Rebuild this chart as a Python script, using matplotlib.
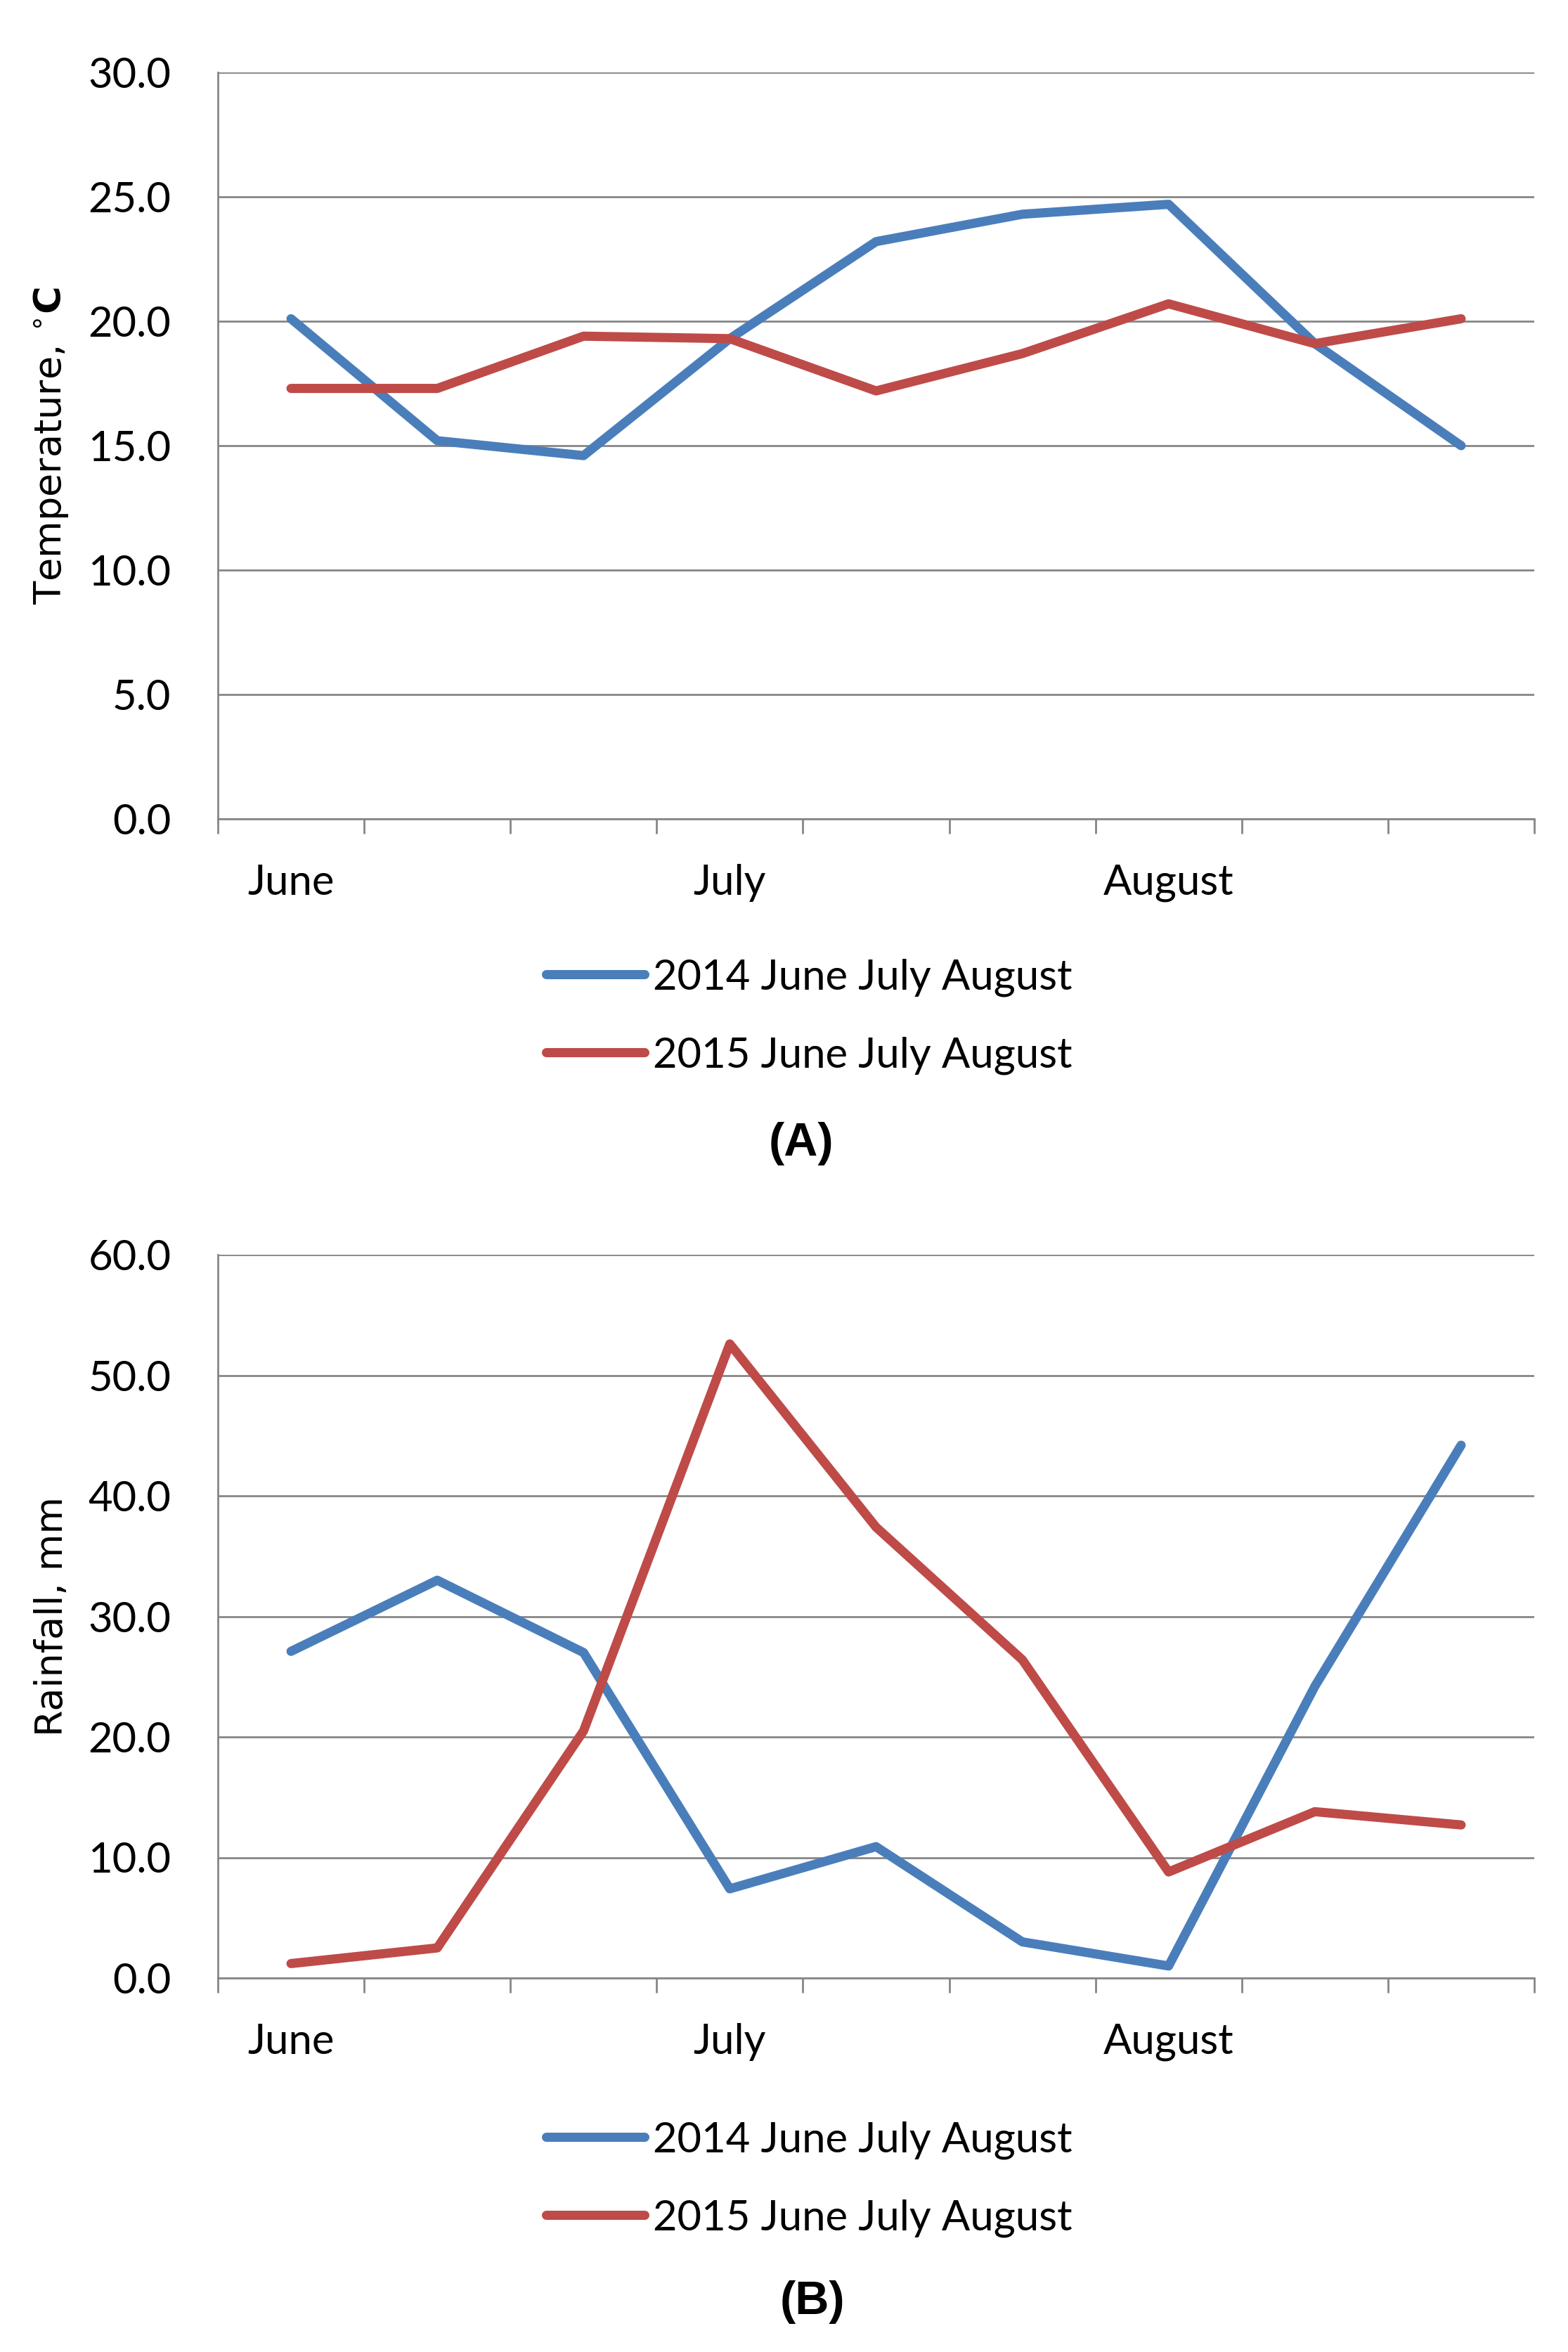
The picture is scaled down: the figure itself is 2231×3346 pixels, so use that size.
import matplotlib
matplotlib.use("Agg")
import matplotlib.pyplot as plt
from matplotlib.ticker import FixedLocator

# data
periods = ["June", "", "", "July", "", "", "August", "", ""]
temp_2014 = [20.1, 15.2, 14.6, 19.3, 23.2, 24.3, 24.7, 19.1, 15.0]
temp_2015 = [17.3, 17.3, 19.4, 19.3, 17.2, 18.7, 20.7, 19.1, 20.1]
rain_2014 = [27.1, 33.0, 27.0, 7.4, 10.9, 3.0, 1.0, 24.2, 44.2]
rain_2015 = [1.2, 2.5, 20.5, 52.6, 37.4, 26.4, 8.8, 13.8, 12.7]
series_labels = ["2014 June July August", "2015 June July August"]

BLUE = "#4A7EBB"
RED = "#BE4B48"
GRAY = "#868686"

plt.rcParams["font.family"] = ["Lato", "DejaVu Sans"]

W, H, DPI = 2231, 3346, 200
fig = plt.figure(figsize=(W / DPI, H / DPI), dpi=DPI)

left = 310 / W
width = (2183 - 310) / W


def draw_panel(ax, y14, y15, ymax, step, ylabel):
    x = list(range(len(periods)))
    l1, = ax.plot(x, y14, color=BLUE, lw=4.7, solid_joinstyle="round",
                  solid_capstyle="round", zorder=3)
    l2, = ax.plot(x, y15, color=RED, lw=4.7, solid_joinstyle="round",
                  solid_capstyle="round", zorder=3)
    ax.set_xlim(-0.5, len(periods) - 0.5)
    ax.set_ylim(0, ymax)
    ax.set_yticks([i * step for i in range(int(ymax / step) + 1)])
    ax.set_yticklabels([f"{i * step:.1f}" for i in range(int(ymax / step) + 1)])
    ax.tick_params(axis="y", length=0, pad=24, labelsize=21.5)
    ax.grid(axis="y", color=GRAY, lw=1.0, zorder=1)
    ax.set_axisbelow(True)

    # boundary ticks (no labels) and centered category labels
    ax.xaxis.set_major_locator(FixedLocator([i - 0.5 for i in range(len(periods) + 1)]))
    ax.xaxis.set_major_formatter(plt.NullFormatter())
    ax.xaxis.set_minor_locator(FixedLocator(x))
    ax.set_xticklabels(periods, minor=True)
    ax.tick_params(axis="x", which="major", length=7.5, width=1.0, color=GRAY,
                   direction="out")
    ax.tick_params(axis="x", which="minor", length=0, pad=23, labelsize=21.5)

    for s in ("top", "right"):
        ax.spines[s].set_visible(False)
    for s in ("left", "bottom"):
        ax.spines[s].set_color(GRAY)
        ax.spines[s].set_linewidth(1.0)

    ax.set_ylabel(ylabel, family="DejaVu Sans", fontsize=19.5)
    ax.yaxis.set_label_coords(-0.112, 0.5)
    return l1, l2


ax1 = fig.add_axes([left, 1 - 1165 / H, width, (1165 - 103) / H])
h1 = draw_panel(ax1, temp_2014, temp_2015, 30, 5, r"Temperature, $^{\circ}\mathbf{C}$")

ax2 = fig.add_axes([left, 1 - 2814 / H, width, (2814 - 1785) / H])
h2 = draw_panel(ax2, rain_2014, rain_2015, 60, 10, "Rainfall, mm")

for handles, yc in ((h1, 1446), (h2, 3100)):
    fig.legend(handles, series_labels, loc="center",
               bbox_to_anchor=(1151 / W, 1 - yc / H), frameon=False,
               fontsize=21.5, handlelength=2.35, handletextpad=0.2,
               labelspacing=0.95, borderpad=0)

fig.text(1140 / W, 1 - 1627 / H, "(A)", ha="center", va="center",
         family="Liberation Sans", fontweight="bold", fontsize=24)
fig.text(1156 / W, 1 - 3275 / H, "(B)", ha="center", va="center",
         family="Liberation Sans", fontweight="bold", fontsize=24)

fig.savefig("out.png", dpi=DPI, facecolor="white")
